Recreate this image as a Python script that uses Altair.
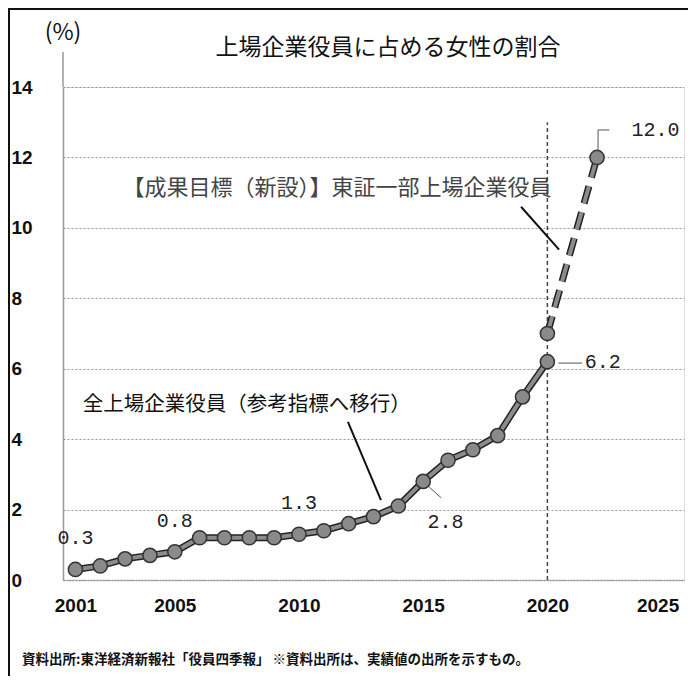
import altair as alt
import pandas as pd

# ---- data ----
years = list(range(2001, 2021))
ratio_all = [0.3, 0.4, 0.6, 0.7, 0.8, 1.2, 1.2, 1.2, 1.2, 1.3,
             1.4, 1.6, 1.8, 2.1, 2.8, 3.4, 3.7, 4.1, 5.2, 6.2]
target_years = [2020, 2022]
target_ratio = [7.0, 12.0]
x_ticks = [2001, 2005, 2010, 2015, 2020, 2025]
y_ticks = [0, 2, 4, 6, 8, 10, 12, 14]

title_text = "上場企業役員に占める女性の割合"
unit_text = "(%)"
label_all = "全上場企業役員（参考指標へ移行）"
label_target = "【成果目標（新設）】東証一部上場企業役員"
footer_text = "資料出所:東洋経済新報社「役員四季報」 ※資料出所は、実績値の出所を示すもの。"

# value labels (text, anchor year, anchor value)
val_text = ["0.3", "0.8", "1.3", "2.8", "12.0"]
val_year = [2001, 2005, 2010, 2015.9, 2024.35]
val_pos = [1.19, 1.68, 2.19, 1.65, 12.78]

JP = "Noto Sans CJK JP"
NUM = "Liberation Sans"
MONO = "Liberation Mono"

df_all = pd.DataFrame({"year": years, "ratio": ratio_all})
df_tgt = pd.DataFrame({"year": target_years, "ratio": target_ratio})
df_val = pd.DataFrame({"year": val_year, "ratio": val_pos, "text": val_text})

x_scale = alt.Scale(domain=[2000.5, 2025.5], nice=False, zero=False)
y_scale = alt.Scale(domain=[0, 14], nice=False)

x_axis = alt.Axis(values=x_ticks, format="d", title=None, ticks=False, grid=False,
                  labelFont=NUM, labelFontSize=19, labelFontWeight="bold",
                  labelColor="#111", labelPadding=16,
                  labelOffset={"condition": {"test": "datum.value == 2025", "value": -14},
                               "value": 0},
                  domainColor="#999", domainDash=[2, 1], domainWidth=1.5)
y_axis = alt.Axis(values=y_ticks, title=None,
                  ticks=False, grid=True, gridDash=[2, 2], gridColor="#999",
                  gridWidth=1, labelAlign="left", labelBaseline="middle",
                  labelPadding=52, labelFont=NUM, labelFontSize=19,
                  labelFontWeight="bold", labelColor="#111",
                  domainColor="#999", domainWidth=1.5)

X = alt.X("year:Q", scale=x_scale, axis=x_axis)
Y = alt.Y("ratio:Q", scale=y_scale, axis=y_axis)

base_all = alt.Chart(df_all)
line_out = base_all.mark_line(color="#222", strokeWidth=7).encode(x=X, y=Y)
line_in = base_all.mark_line(color="#8c8c8c", strokeWidth=4).encode(x=X, y=Y)
pts = base_all.mark_point(filled=True, shape="circle", size=200, color="#8a8a8a",
                          stroke="#333", strokeWidth=1.5, opacity=1).encode(x=X, y=Y)

base_tgt = alt.Chart(df_tgt)
tline_out = base_tgt.mark_line(color="#222", strokeWidth=7, strokeDash=[18, 9]).encode(x=X, y=Y)
tline_in = base_tgt.mark_line(color="#8c8c8c", strokeWidth=4, strokeDash=[18, 9]).encode(x=X, y=Y)
tpts = base_tgt.mark_point(filled=True, shape="circle", size=200, color="#8a8a8a",
                           stroke="#333", strokeWidth=1.5, opacity=1).encode(x=X, y=Y)

# vertical dashed line at 2020
vline = alt.Chart(pd.DataFrame({"year": [2020], "ratio": [0], "ratio2": [13]})).mark_rule(
    color="#444", strokeWidth=1.5, strokeDash=[4, 3]).encode(x=X, y=Y, y2="ratio2:Q")

# value labels
vals = alt.Chart(df_val).mark_text(font=MONO, fontSize=20, color="#222",
                                   align="center", baseline="middle").encode(
    x=X, y=Y, text="text:N")
val62 = alt.Chart(pd.DataFrame({"year": [2021.5], "ratio": [6.2], "text": ["6.2"]})).mark_text(
    font=MONO, fontSize=20, color="#222", align="left", baseline="middle").encode(
    x=X, y=Y, text="text:N")

# series labels
lab_all = alt.Chart(pd.DataFrame({"year": [2001.3], "ratio": [4.97], "text": [label_all]})).mark_text(
    font=JP, fontSize=20.5, color="#111", align="left", baseline="middle").encode(
    x=X, y=Y, text="text:N")
lab_tgt = alt.Chart(pd.DataFrame({"year": [2002.9], "ratio": [11.12], "text": [label_target]})).mark_text(
    font=JP, fontSize=22, color="#444", align="left", baseline="middle").encode(
    x=X, y=Y, text="text:N")

# leader lines
lead_df = pd.DataFrame({
    "year":   [2011.97, 2018.94],
    "year2":  [2013.3, 2020.47],
    "ratio":  [4.49, 10.6],
    "ratio2": [2.27, 9.38],
})
leads = alt.Chart(lead_df).mark_rule(color="#111", strokeWidth=2).encode(
    x=X, x2="year2:Q", y=Y, y2="ratio2:Q")
thin_df = pd.DataFrame({
    "year":   [2020.44, 2015.24, 2022.04, 2022.04],
    "year2":  [2021.4, 2015.73, 2022.04, 2022.5],
    "ratio":  [6.16, 2.64, 12.16, 12.78],
    "ratio2": [6.16, 2.33, 12.78, 12.78],
})
thin = alt.Chart(thin_df).mark_rule(color="#555", strokeWidth=1).encode(
    x=X, x2="year2:Q", y=Y, y2="ratio2:Q")

# decorations: title, unit, axis extension, frame, footer
one = pd.DataFrame({"k": [0]})
title = alt.Chart(pd.DataFrame({"text": [title_text]})).mark_text(
    font=JP, fontSize=23, color="#111", align="center", baseline="middle").encode(
    x=alt.value(325), y=alt.value(-39), text="text:N")
unit = alt.Chart(pd.DataFrame({"text": [unit_text]})).mark_text(
    font=JP, fontSize=23, color="#111", align="center", baseline="middle").encode(
    x=alt.value(0), y=alt.value(-54), text="text:N")
axis_ext = alt.Chart(one).mark_rule(color="#999", strokeWidth=1.5).encode(
    x=alt.value(0), y=alt.value(-35), y2=alt.value(0))
frame_top = alt.Chart(one).mark_rule(color="#111", strokeWidth=2).encode(
    x=alt.value(-55), x2=alt.value(630), y=alt.value(-78))
frame_left = alt.Chart(one).mark_rule(color="#111", strokeWidth=2).encode(
    x=alt.value(-54), y=alt.value(-80), y2=alt.value(620))
footer = alt.Chart(pd.DataFrame({"text": [footer_text]})).mark_text(
    font=JP, fontSize=13.5, fontWeight="bold", color="#111", align="left",
    baseline="middle").encode(x=alt.value(-41), y=alt.value(573), text="text:N")

chart = alt.layer(
    axis_ext, vline, line_out, line_in, pts, tline_out, tline_in, tpts,
    vals, val62, lab_all, lab_tgt, leads, thin, title, unit,
    frame_top, frame_left, footer
).properties(
    width=621, height=493,
    autosize=alt.AutoSizeParams(type="none"),
    padding={"left": 55, "top": 79, "right": 4, "bottom": 96},
).configure_view(stroke=None).configure(background="white")

chart.save("out.html", embed_options={"renderer": "svg", "actions": False})
